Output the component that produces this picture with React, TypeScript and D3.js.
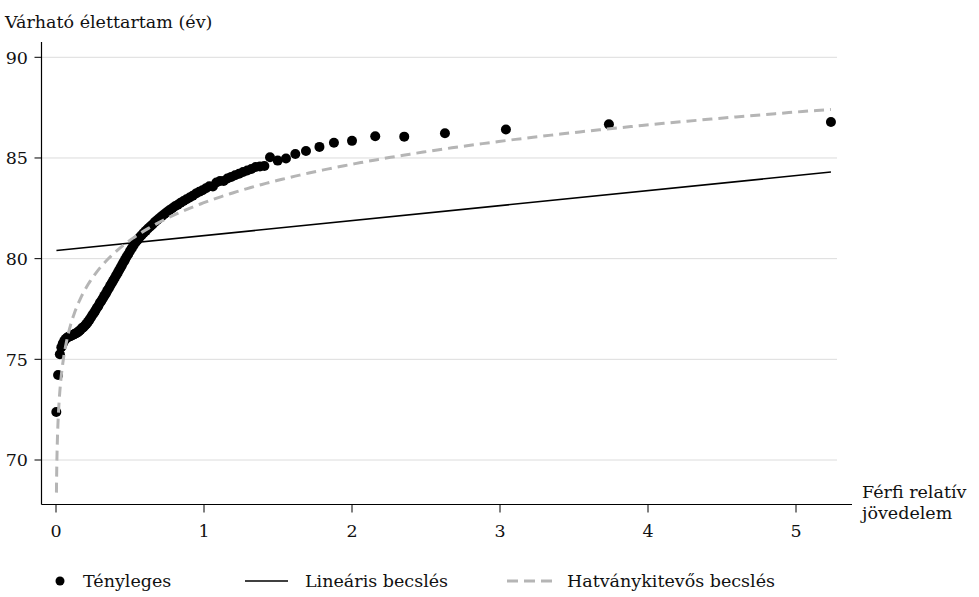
import React from "react";
import * as d3 from "d3";

// Observed data: relative male income vs. life expectancy
const incomeX: number[] = [
  0.002, 0.014, 0.026, 0.036, 0.046, 0.056, 0.066, 0.076, 0.086, 0.096,
  0.106, 0.116, 0.126, 0.136, 0.146, 0.156, 0.166, 0.176, 0.186, 0.196,
  0.206, 0.216, 0.226, 0.236, 0.246, 0.256, 0.266, 0.276, 0.286, 0.296,
  0.306, 0.316, 0.326, 0.336, 0.346, 0.356, 0.366, 0.376, 0.386, 0.396,
  0.406, 0.416, 0.426, 0.436, 0.446, 0.456, 0.466, 0.476, 0.488, 0.5,
  0.512, 0.524, 0.537, 0.55, 0.564, 0.578, 0.592, 0.607, 0.622, 0.637,
  0.652, 0.668, 0.684, 0.7, 0.716, 0.733, 0.75, 0.768, 0.786, 0.804,
  0.823, 0.842, 0.862, 0.882, 0.903, 0.924, 0.946, 0.968, 0.99, 1.013,
  1.036, 1.06, 1.084, 1.108, 1.133, 1.158, 1.184, 1.21, 1.237, 1.264,
  1.292, 1.32, 1.349, 1.378, 1.408, 1.446, 1.498, 1.554, 1.617, 1.689,
  1.78, 1.878, 2.0, 2.157, 2.353, 2.628, 3.04, 3.736, 5.236,
];
const lifeExpY: number[] = [
  72.38, 74.22, 75.25, 75.6, 75.78, 75.92, 76.02, 76.08, 76.12, 76.15,
  76.18, 76.22, 76.26, 76.3, 76.34, 76.4, 76.47, 76.55, 76.6, 76.68,
  76.76, 76.86, 76.96, 77.08, 77.2, 77.3, 77.42, 77.55, 77.65, 77.8,
  77.9, 78.02, 78.15, 78.26, 78.4, 78.52, 78.65, 78.78, 78.9, 79.03,
  79.16, 79.28, 79.42, 79.55, 79.68, 79.82, 79.94, 80.08, 80.22, 80.38,
  80.52, 80.66, 80.8, 80.92, 81.05, 81.16, 81.27, 81.38, 81.5, 81.6,
  81.7, 81.82, 81.92, 82.02, 82.12, 82.22, 82.32, 82.42, 82.5, 82.6,
  82.68, 82.78, 82.86, 82.95, 83.04, 83.12, 83.24, 83.32, 83.4, 83.5,
  83.6, 83.58, 83.78, 83.86, 83.86, 83.98, 84.06, 84.14, 84.22, 84.3,
  84.38, 84.45, 84.55, 84.58, 84.6, 85.04, 84.87, 84.97, 85.2, 85.35,
  85.55, 85.76, 85.85, 86.08, 86.06, 86.23, 86.41, 86.67, 86.79,
];

// Fitted models
const linearIntercept = 80.4;
const linearSlope = 0.745;
const powerA = 82.78;
const powerB = 0.0329;
const fitXMin = 0.003;
const fitXMax = 5.236;

const xTicks = [0, 1, 2, 3, 4, 5];
const yTicks = [70, 75, 80, 85, 90];

const yTitle = "Várható élettartam (év)";
const xTitle = ["Férfi relatív", "jövedelem"];
const legendLabels = ["Tényleges", "Lineáris becslés", "Hatványkitevős becslés"];

const FONT = "'DejaVu Serif', 'Liberation Serif', serif";
const FS = 17.5;
const W = 979;
const H = 597;

export default function App() {
  const x = d3.scaleLinear().domain([0, 5]).range([56, 796]);
  const y = d3.scaleLinear().domain([70, 90]).range([460, 57.3]);

  const plotLeft = 41.5;
  const plotRight = 852;
  const gridRight = 837;
  const axisY = 504.5;
  const plotTop = 42;

  const points = incomeX.map((v, i) => [v, lifeExpY[i]] as [number, number]);

  const fitXs = d3.range(0, 401).map((i) => fitXMin * Math.pow(fitXMax / fitXMin, i / 400));
  const powerLine = d3
    .line<number>()
    .x((v) => x(v))
    .y((v) => y(powerA * Math.pow(v, powerB)))(fitXs) as string;
  const linLine = d3
    .line<number>()
    .x((v) => x(v))
    .y((v) => y(linearIntercept + linearSlope * v))([fitXMin, fitXMax]) as string;

  const legendY = 581;

  return (
    <div style={{ position: "fixed", left: 0, top: 0 }}>
      <svg width={W} height={H} style={{ display: "block", background: "#fff" }} fontFamily={FONT}>
        {/* gridlines */}
        {yTicks.map((t) => (
          <line key={"g" + t} x1={plotLeft} x2={gridRight} y1={y(t)} y2={y(t)} stroke="#dcdcdc" strokeWidth={1} />
        ))}
        {/* y axis */}
        <line x1={plotLeft} x2={plotLeft} y1={plotTop} y2={axisY} stroke="#000" strokeWidth={1.2} />
        {yTicks.map((t) => (
          <g key={"yt" + t}>
            <line x1={plotLeft - 7} x2={plotLeft} y1={y(t)} y2={y(t)} stroke="#000" strokeWidth={1} />
            <text x={28} y={y(t)} dy="0.36em" textAnchor="end" fontSize={FS} fill="#111">
              {t}
            </text>
          </g>
        ))}
        {/* x axis */}
        <line x1={plotLeft} x2={plotRight} y1={axisY} y2={axisY} stroke="#000" strokeWidth={1.2} />
        {xTicks.map((t) => (
          <g key={"xt" + t}>
            <line x1={x(t)} x2={x(t)} y1={axisY} y2={axisY + 8} stroke="#000" strokeWidth={1} />
            <text x={x(t)} y={537} textAnchor="middle" fontSize={FS} fill="#111">
              {t}
            </text>
          </g>
        ))}
        {/* titles */}
        <text x={5} y={28} fontSize={FS} fill="#111">
          {yTitle}
        </text>
        <text x={862} y={498} fontSize={FS} fill="#111">
          {xTitle[0]}
        </text>
        <text x={862} y={519} fontSize={FS} fill="#111">
          {xTitle[1]}
        </text>

        {/* series */}
        <path d={linLine} fill="none" stroke="#000" strokeWidth={1.6} />
        {points.map(([px, py], i) => (
          <circle key={"p" + i} cx={x(px)} cy={y(py)} r={5} fill="#000" />
        ))}
        <path d={powerLine} fill="none" stroke="#b5b5b5" strokeWidth={3} strokeDasharray="10,6" />

        {/* legend */}
        <circle cx={60} cy={legendY} r={4.5} fill="#000" />
        <text x={83} y={legendY} dy="0.36em" fontSize={FS} fill="#111">
          {legendLabels[0]}
        </text>
        <line x1={245} x2={288} y1={legendY} y2={legendY} stroke="#000" strokeWidth={1.6} />
        <text x={305} y={legendY} dy="0.36em" fontSize={FS} fill="#111">
          {legendLabels[1]}
        </text>
        <line x1={507} x2={552} y1={legendY} y2={legendY} stroke="#b5b5b5" strokeWidth={3} strokeDasharray="11,6" />
        <text x={567} y={legendY} dy="0.36em" fontSize={FS} fill="#111">
          {legendLabels[2]}
        </text>
      </svg>
    </div>
  );
}
